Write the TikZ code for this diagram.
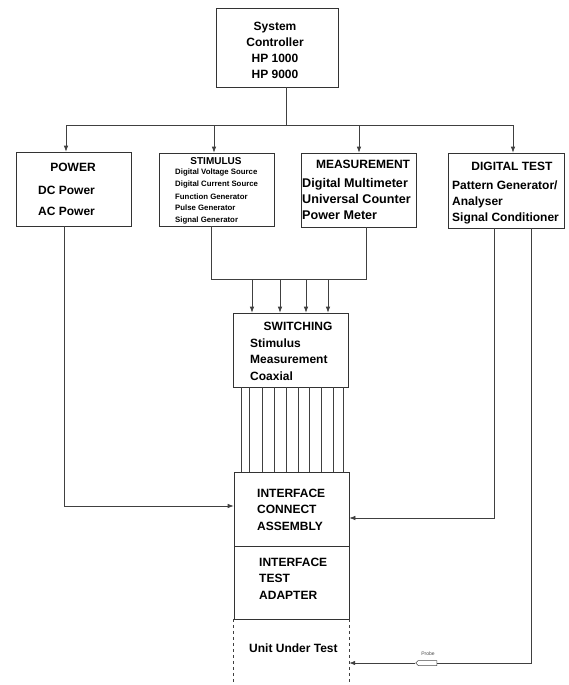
\documentclass[tikz,border=0pt]{standalone}
\usepackage{fontspec}
\setmainfont{Liberation Sans}
\usetikzlibrary{arrows.meta,shapes.symbols}
\begin{document}
\begin{tikzpicture}[x=1pt,y=-1pt,
  box/.style={draw=black!80,line width=0.7pt,inner sep=0pt,minimum width=#1},
  conn/.style={draw=black!75,line width=0.7pt},
  arr/.style={conn,-{Latex[length=6pt,width=4.5pt]}},
  big/.style={inner sep=0pt,font=\fontsize{12}{14}\selectfont\bfseries},
  bigw/.style={inner sep=0pt,font=\fontsize{12.6}{14}\selectfont\bfseries},
  mid/.style={inner sep=0pt,font=\fontsize{10}{12}\selectfont\bfseries},
  small/.style={inner sep=0pt,font=\fontsize{7.8}{9}\selectfont\bfseries},
  tiny/.style={inner sep=0pt,font=\fontsize{5}{6}\selectfont,text=black!70}]
\useasboundingbox (0,0) rectangle (568,685);
\fill[white] (0,0) rectangle (568,685);

% boxes
\node[box=122pt,minimum height=79pt] (ctrl) at (277,47.5) {};
\node[box=115pt,minimum height=74pt] (power) at (73.5,189) {};
\node[box=115pt,minimum height=73pt] (stim) at (216.5,189.5) {};
\node[box=115pt,minimum height=74pt] (meas) at (358.5,190) {};
\node[box=116pt,minimum height=75pt] (dt) at (506,190.5) {};
\node[box=115pt,minimum height=74pt] (sw) at (290.5,350) {};
\node[box=115pt,minimum height=74pt] (ica) at (291.5,509) {};
\node[box=115pt,minimum height=73pt] (ita) at (291.5,582.5) {};
\node[inner sep=0pt,minimum width=115pt,minimum height=66pt] (uut) at (291.5,652) {};
\draw[conn,dashed] (uut.north west) -- (uut.south west);
\draw[conn,dashed] (uut.north east) -- (uut.south east);

% texts
\node[big,anchor=base] (c1) at (275,30.3) {System};
\node[big,anchor=base] (c2) at (275,46.3) {Controller};
\node[big,anchor=base] (c3) at (275,62.3) {HP 1000};
\node[big,anchor=base] (c4) at (275,78.3) {HP 9000};

\node[big,anchor=base] (p0) at (73,171.3) {POWER};
\node[big,anchor=base west] (p1) at (38,194.3) {DC Power};
\node[big,anchor=base west] (p2) at (38,215.3) {AC Power};

\node[mid,anchor=base] (s0) at (216,164.6) {STIMULUS};
\node[small,anchor=base west] (s1) at (175,174.9) {Digital Voltage Source};
\node[small,anchor=base west] (s2) at (175,186.9) {Digital Current Source};
\node[small,anchor=base west] (s3) at (175,199.4) {Function Generator};
\node[small,anchor=base west] (s4) at (175,210.9) {Pulse Generator};
\node[small,anchor=base west] (s5) at (175,222.9) {Signal Generator};

\node[big,anchor=base] (m0) at (363,168.3) {MEASUREMENT};
\node[bigw,anchor=base west] (m1) at (302,187.6) {Digital Multimeter};
\node[bigw,anchor=base west] (m2) at (302,203.6) {Universal Counter};
\node[bigw,anchor=base west] (m3) at (302,219.3) {Power Meter};

\node[big,anchor=base] (d0) at (512,170.3) {DIGITAL TEST};
\node[big,anchor=base west] (d1) at (452,189.3) {Pattern Generator/};
\node[big,anchor=base west] (d2) at (452,205.3) {Analyser};
\node[big,anchor=base west] (d3) at (452,221.3) {Signal Conditioner};

\node[big,anchor=base] (w0) at (298,330.3) {SWITCHING};
\node[big,anchor=base west] (w1) at (250,347.3) {Stimulus};
\node[big,anchor=base west] (w2) at (250,363.3) {Measurement};
\node[big,anchor=base west] (w3) at (250,380.3) {Coaxial};

\node[big,anchor=base west] (i1) at (257,497.3) {INTERFACE};
\node[big,anchor=base west] (i2) at (257,513.3) {CONNECT};
\node[big,anchor=base west] (i3) at (257,530.3) {ASSEMBLY};

\node[big,anchor=base west] (t1) at (259,566.3) {INTERFACE};
\node[big,anchor=base west] (t2) at (259,582.3) {TEST};
\node[big,anchor=base west] (t3) at (259,599.3) {ADAPTER};

\node[big,anchor=base west] (u1) at (249,652.3) {Unit Under Test};

% controller bus
\coordinate (busL) at (66,125);
\coordinate (busR) at (513,125);
\coordinate (busC) at (286,125);
\draw[conn] (ctrl.south -| busC) -- (busC);
\draw[conn] (busL) -- (busR);
\draw[arr] (busL) -- (power.north -| busL);
\draw[arr] (214,125) -- (stim.north -| 214,0);
\draw[arr] (359,125) -- (meas.north -| 359,0);
\draw[arr] (busR) -- (dt.north -| busR);

% stimulus / measurement to switching
\coordinate (sb) at (211,279);
\coordinate (mb) at (366,279);
\draw[conn] (stim.south -| sb) -- (sb) -- (306,279);
\draw[conn] (meas.south -| mb) -- (mb) -- (306,279);
\foreach \xx in {252,280,306,328}
  \draw[arr] (\xx,279) -- (sw.north -| \xx,0);

% switching to interface connect assembly
\foreach \xx in {241,249,262,274,286,298,309,321,333,343}
  \draw[conn,line width=0.6pt] (sw.south -| \xx,0) -- (ica.north -| \xx,0);

% power to ICA
\coordinate (pw) at (64,506);
\draw[arr] (power.south -| pw) -- (pw) -- (ica.west |- pw);

% digital test to ICA
\coordinate (dA) at (494,518);
\draw[arr] (dt.south -| dA) -- (dA) -- (ica.east |- dA);

% digital test to UUT via probe
\node[draw=black!70,line width=0.5pt,signal,signal to=west,inner sep=0pt,
      minimum width=21pt,minimum height=5pt] (probe) at (427.5,663) {};
\node[tiny,anchor=base] (plabel) at (428,655) {Probe};
\coordinate (dB) at (531,663);
\draw[conn] (dt.south -| dB) -- (dB) -- (probe.east);
\draw[arr] (probe.west) -- (uut.east |- probe);
\end{tikzpicture}
\end{document}
